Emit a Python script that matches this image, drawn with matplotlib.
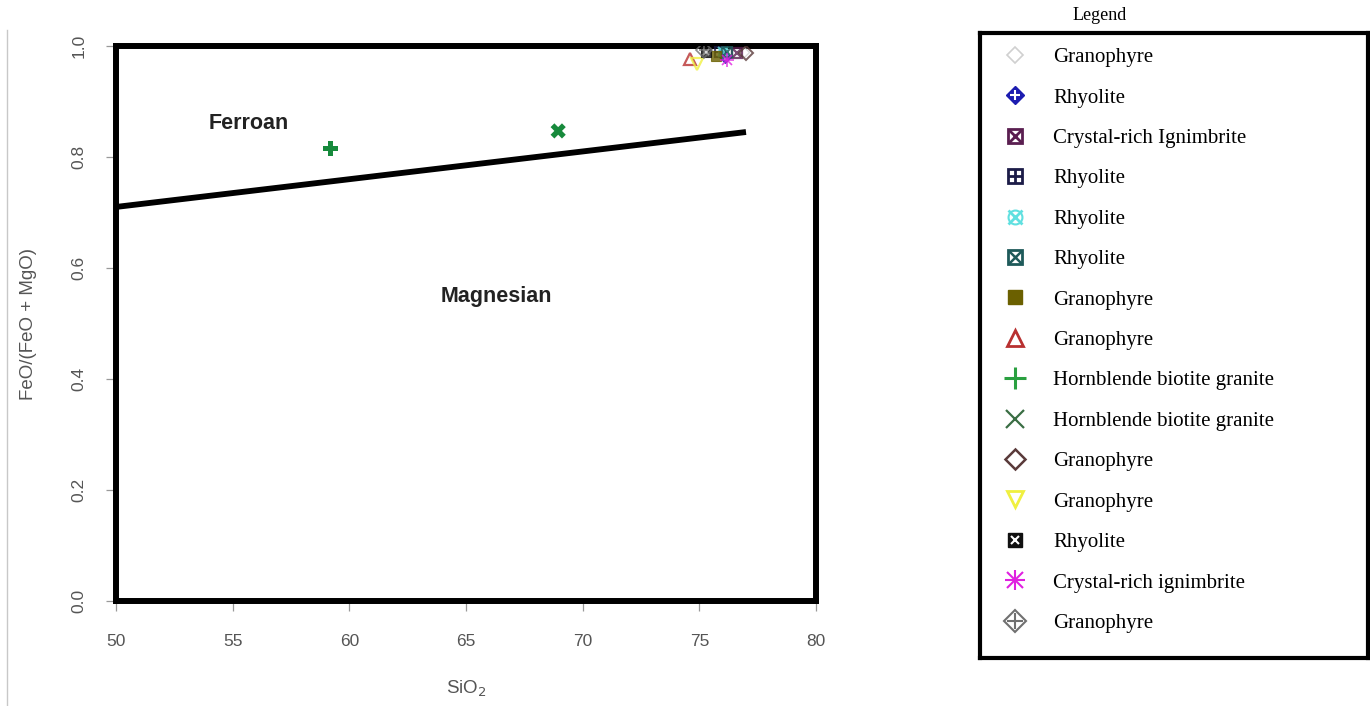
import matplotlib
matplotlib.use("Agg")
import matplotlib.pyplot as plt
from matplotlib.lines import Line2D
from matplotlib.legend_handler import HandlerTuple

# sample groups: label, SiO2 (wt%), FeO/(FeO+MgO)
labels = ["Granophyre", "Rhyolite", "Crystal-rich Ignimbrite", "Rhyolite", "Rhyolite",
          "Rhyolite", "Granophyre", "Granophyre", "Hornblende biotite granite",
          "Hornblende biotite granite", "Granophyre", "Granophyre", "Rhyolite",
          "Crystal-rich ignimbrite", "Granophyre"]
sio2 = [76.9, 76.1, 76.6, 75.9, 76.0, 76.2, 75.7, 74.6, 59.2, 68.95, 77.0, 74.9, 75.3, 76.2, 75.2]
fe_ratio = [0.99, 0.98, 0.988, 0.99, 0.99, 0.99, 0.982, 0.977, 0.815, 0.847, 0.987, 0.967, 0.99, 0.975, 0.992]

# Frost et al. (2001) ferroan / magnesian boundary
boundary_sio2 = [50, 77]
boundary_fe = [0.46 + 0.005 * s for s in boundary_sio2]

xticks = [50, 55, 60, 65, 70, 75, 80]
yticks = [0.0, 0.2, 0.4, 0.6, 0.8, 1.0]

# one style per group: list of (marker, facecolor, edgecolor, size, edgewidth) layers
styles = [
    [("D", "none", "#d0d0d0", 8, 1.2)],
    [("D", "#1c1cb0", "#1c1cb0", 9, 1.0), ("+", "white", "white", 7, 1.5)],
    [("s", "none", "#5a1e50", 10, 2.0), ("x", "#5a1e50", "#5a1e50", 9, 2.0)],
    [("s", "none", "#1c1c48", 10, 2.0), ("+", "#1c1c48", "#1c1c48", 10, 2.0)],
    [("o", "none", "#60e0e0", 10, 1.5), ("x", "#60e0e0", "#60e0e0", 10, 2.0)],
    [("s", "none", "#1e5a5a", 10, 2.0), ("x", "#1e5a5a", "#1e5a5a", 8, 1.8)],
    [("s", "#6b6000", "#6b6000", 10, 1.0)],
    [("^", "none", "#b83030", 12, 2.0)],
    [("+", "#2aa040", "#2aa040", 16, 2.2)],
    [("x", "#3a6e44", "#3a6e44", 13, 1.6)],
    [("D", "none", "#5a3a3a", 10, 1.8)],
    [("v", "none", "#f0f040", 12, 2.0)],
    [("s", "#101010", "#101010", 10, 1.0), ("x", "white", "white", 6, 1.5)],
    [("+", "#e020e0", "#e020e0", 14, 1.5), ("x", "#e020e0", "#e020e0", 11, 1.5)],
    [("D", "none", "#707070", 11, 1.5), ("+", "#707070", "#707070", 11, 1.5)],
]

plt.rcParams["font.family"] = ["Liberation Sans", "DejaVu Sans"]

fig = plt.figure(figsize=(13.70, 7.06), dpi=100)
W, H = 1370, 706
ax = fig.add_axes([116 / W, 1 - 601 / H, 700 / W, 555 / H])

ax.plot(boundary_sio2, boundary_fe, color="black", lw=4.2, solid_capstyle="butt")

# points in the plot are drawn smaller and softer than in the key
for i in range(len(labels)):
    if labels[i] == "Hornblende biotite granite":
        mk = "P" if styles[i][0][0] == "+" else "X"
        ax.scatter(sio2[i], fe_ratio[i], marker=mk, s=120, color="#178a3c",
                   edgecolors="none", zorder=4)
        continue
    for m, fc, ec, sz, ew in styles[i]:
        ax.plot(sio2[i], fe_ratio[i], marker=m, ls="none", ms=sz * 0.7,
                mfc=fc, mec=ec, mew=ew * 0.8, alpha=0.8, zorder=3)

ax.text(55.7, 0.861, "Ferroan", fontsize=15.5, fontweight="bold", color="#222222",
        ha="center", va="center")
ax.text(66.3, 0.548, "Magnesian", fontsize=15.5, fontweight="bold", color="#222222",
        ha="center", va="center")

ax.set_xlim(50, 80)
ax.set_ylim(0, 1)
ax.set_xticks(xticks)
ax.set_yticks(yticks)
ax.set_xticklabels([str(t) for t in xticks])
ax.set_yticklabels([f"{t:.1f}" for t in yticks], rotation=90, va="center")
for s in ax.spines.values():
    s.set_linewidth(4.3)
    s.set_color("black")
ax.tick_params(axis="both", direction="out", length=7, width=0.9, color="#999999",
               labelcolor="#555555", labelsize=12.5)
ax.tick_params(axis="x", pad=17)
ax.tick_params(axis="y", pad=14)
ax.set_xlabel("SiO$_2$", fontsize=13.5, color="#555555", labelpad=21.5)
ax.set_ylabel("FeO/(FeO + MgO)", fontsize=13.5, color="#555555", labelpad=25)

# faint page edge on the left
fig.add_artist(Line2D([7 / W, 7 / W], [0, 1 - 30 / H], color="#c8c8c8", lw=1.0))

# key panel
lax = fig.add_axes([980 / W, 1 - 658 / H, 388 / W, 625 / H])
lax.set_xticks([])
lax.set_yticks([])
for s in lax.spines.values():
    s.set_linewidth(3.0)
    s.set_color("black")

handles = []
for st in styles:
    layers = tuple(Line2D([], [], marker=m, ls="none", ms=sz, mfc=fc, mec=ec, mew=ew)
                   for m, fc, ec, sz, ew in st)
    handles.append(layers)

lax.legend(handles, labels, loc="upper left", bbox_to_anchor=(0, 1), borderaxespad=0,
           frameon=False, prop={"family": "Liberation Serif", "size": 15},
           labelspacing=1.0, handlelength=2.0, handletextpad=0.8, borderpad=0.7,
           handler_map={tuple: HandlerTuple(ndivide=1)})

fig.text(1100 / W, 1 - 16 / H, "Legend", fontsize=13, family="Liberation Serif",
         ha="center", va="center")

fig.savefig("out.png", dpi=100)
